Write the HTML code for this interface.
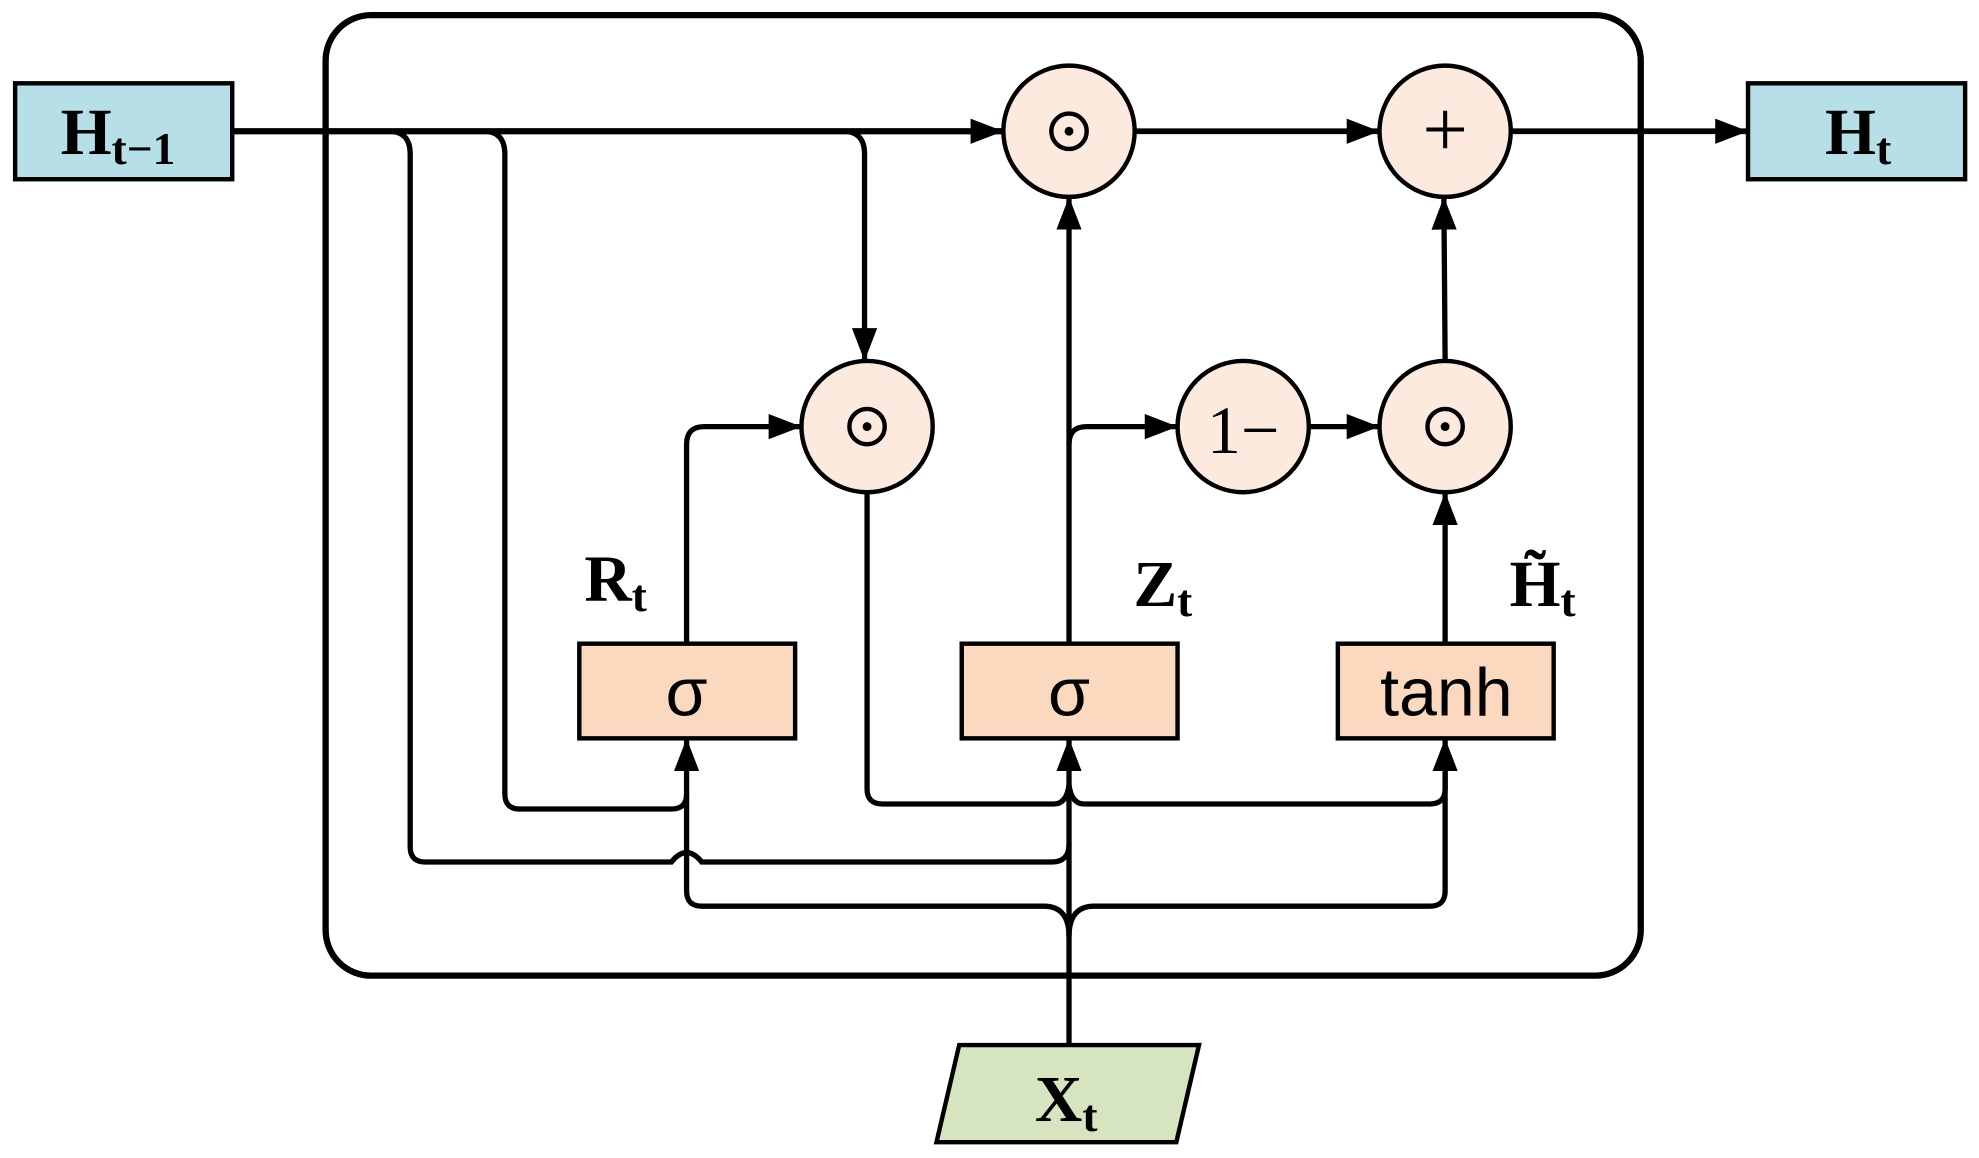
<!DOCTYPE html>
<html><head><meta charset="utf-8"><style>html,body{margin:0;padding:0;background:#fff}svg{display:block}</style></head>
<body>
<svg width="1979" height="1158" viewBox="0 0 1568 917.5" xmlns="http://www.w3.org/2000/svg">
<defs>
<marker id="a" markerWidth="30" markerHeight="22" refX="26" refY="10" markerUnits="userSpaceOnUse" orient="auto"><path d="M0,0 L26,10 L0,20 z" fill="#000"/></marker>
</defs>
<g fill="none" stroke="#000" stroke-linecap="butt">
<rect x="258" y="12" width="1042" height="761" rx="36" stroke-width="5"/>
<path d="M184 104 L795 104" stroke-width="5" marker-end="url(#a)"/>
<path d="M899 104 L1093 104" stroke-width="4.5" marker-end="url(#a)"/>
<path d="M1197 104 L1385 104" stroke-width="4.5" marker-end="url(#a)"/>
<g stroke-width="4.2">
<path d="M308 104 Q325 104 325 122 L325 671 Q325 683 337 683 L532 683 Q544 668 556 683 L833 683 Q847 683 847 669"/>
<path d="M383 104 Q400 104 400 122 L400 629 Q400 641 412 641 L532 641 Q544 641 544 629"/>
<path d="M668 104 Q685 104 685 122 L685 286" marker-end="url(#a)"/>
<path d="M544 510 L544 352 Q544 338 558 338 L635 338" marker-end="url(#a)"/>
<path d="M847 510 L847 156" marker-end="url(#a)"/>
<path d="M847 352 Q847 338 861 338 L933 338" marker-end="url(#a)"/>
<path d="M1037 338 L1093 338" marker-end="url(#a)"/>
<path d="M1145 510 L1145 390" marker-end="url(#a)"/>
<path d="M1145 286 L1144 156" marker-end="url(#a)"/>
<path d="M687 390 L687 625 Q687 637 699 637 L835 637 Q845 637 847 622 Q849 637 859 637 L1133 637 Q1145 637 1145 625 L1145 585" marker-end="url(#a)"/>
<path d="M847 828 L847 585" marker-end="url(#a)"/>
<path d="M847 742 Q847 718 827 718 L556 718 Q544 718 544 706 L544 585" marker-end="url(#a)"/>
<path d="M847 742 Q847 718 867 718 L1133 718 Q1145 718 1145 706 L1145 600"/>
</g>
</g>
<g stroke="#000" stroke-width="3.5">
<rect x="12" y="66" width="172" height="76" fill="#b7dfe8"/>
<rect x="1385" y="66" width="172" height="76" fill="#b7dfe8"/>
<rect x="459" y="510" width="171" height="75" fill="#fad9bf"/>
<rect x="762" y="510" width="171" height="75" fill="#fad9bf"/>
<rect x="1060" y="510" width="171" height="75" fill="#fad9bf"/>
<circle cx="847" cy="104" r="52" fill="#fbeadd"/>
<circle cx="1145" cy="104" r="52" fill="#fbeadd"/>
<circle cx="687" cy="338" r="52" fill="#fbeadd"/>
<circle cx="985" cy="338" r="52" fill="#fbeadd"/>
<circle cx="1145" cy="338" r="52" fill="#fbeadd"/>
<path d="M760 828 L950 828 L932 905 L742 905 Z" fill="#d6e4bf"/>
</g>
<g fill="none" stroke="#000" stroke-width="3.5">
<circle cx="847" cy="104" r="14"/><circle cx="687" cy="338" r="14"/><circle cx="1145" cy="338" r="14"/>
</g>
<g fill="#000"><circle cx="847" cy="104" r="3.5"/><circle cx="687" cy="338" r="3.5"/><circle cx="1145" cy="338" r="3.5"/></g>
<g font-family="Liberation Serif, serif" font-weight="bold" fill="#000">
<text x="48" y="122" font-size="52">H<tspan font-size="36" dy="8">t−1</tspan></text>
<text x="1446" y="122" font-size="52">H<tspan font-size="36" dy="8">t</tspan></text>
<text x="463" y="476" font-size="52">R<tspan font-size="36" dy="8">t</tspan></text>
<text x="898" y="480" font-size="52">Z<tspan font-size="36" dy="8">t</tspan></text>
<text x="1196" y="480" font-size="52">H̃<tspan font-size="36" dy="8">t</tspan></text>
<text x="820" y="888" font-size="52">X<tspan font-size="36" dy="8">t</tspan></text>
</g>
<g font-family="Liberation Serif, serif" fill="#000" text-anchor="middle">
<text x="1145" y="124" font-size="64">+</text>
<text x="985" y="359" font-size="54">1−</text>
</g>
<g font-family="Liberation Sans, DejaVu Sans, sans-serif" fill="#000" text-anchor="middle" font-size="54">
<text x="544" y="567">σ</text>
<text x="847" y="567">σ</text>
<text x="1146" y="567">tanh</text>
</g>
</svg>
</body></html>
